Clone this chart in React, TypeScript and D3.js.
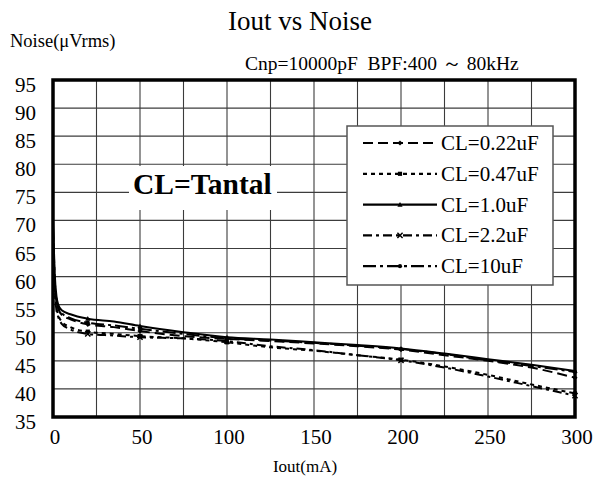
import React from "react";
import * as d3 from "d3";

const currents = [0, 0.5, 1, 2, 3, 5, 10, 20, 35, 50, 75, 100, 125, 150, 175, 200, 225, 250, 275, 300];
const cl022 = [68, 63, 59, 55.5, 54.3, 53.2, 52.4, 51.5, 51, 50.3, 49.4, 48.9, 48.5, 48.1, 47.6, 47.0, 46.0, 45.0, 43.8, 42.0];
const cl047 = [67, 62, 58, 54.5, 53.2, 52, 51, 50.2, 49.8, 49.4, 49.0, 48.3, 47.4, 46.8, 46.0, 45.2, 44.0, 42.5, 40.8, 39.2];
const cl1 = [70, 65, 60.5, 56.5, 55, 54, 53.3, 52.5, 52, 51.2, 50.1, 49.2, 48.8, 48.3, 47.8, 47.2, 46.3, 45.3, 44.3, 43.2];
const cl22 = [66, 61, 57.5, 54, 52.8, 51.6, 50.6, 49.8, 49.5, 49.2, 49, 48.5, 47.6, 46.9, 46.0, 45.1, 43.8, 42.2, 40.5, 38.8];
const cl10 = [69, 64, 59.5, 56, 54.5, 53.5, 52.6, 51.8, 51.3, 50.7, 49.8, 49.0, 48.6, 48.2, 47.7, 47.1, 46.2, 45.1, 44.1, 43.0];

const seriesNames = ["CL=0.22uF", "CL=0.47uF", "CL=1.0uF", "CL=2.2uF", "CL=10uF"];
const seriesValues = [cl022, cl047, cl1, cl22, cl10];
const markerCurrents = [20, 50, 100, 200, 300];

const xTicks = [0, 50, 100, 150, 200, 250, 300];
const yTicks = [35, 40, 45, 50, 55, 60, 65, 70, 75, 80, 85, 90, 95];
const xGrid = [25, 50, 75, 100, 125, 150, 175, 200, 225, 250, 275];

const dashes = ["10,5", "4,4", "none", "9,4,3,4", "13,4,3,4"];
const markers = ["diamond", "square", "triangle", "cross", "circle"];

const FONT = "Liberation Serif, DejaVu Serif, serif";

function Marker({ kind, x, y }: { kind: string; x: number; y: number }) {
  const s = 2.6;
  if (kind === "diamond") return <path d={`M${x},${y - s}L${x + s},${y}L${x},${y + s}L${x - s},${y}Z`} fill="#000" />;
  if (kind === "square") return <rect x={x - s * 0.8} y={y - s * 0.8} width={s * 1.6} height={s * 1.6} fill="#000" />;
  if (kind === "triangle") return <path d={`M${x},${y - s}L${x + s},${y + s * 0.8}L${x - s},${y + s * 0.8}Z`} fill="#000" />;
  if (kind === "cross")
    return <path d={`M${x - s},${y - s}L${x + s},${y + s}M${x + s},${y - s}L${x - s},${y + s}`} stroke="#000" strokeWidth={1.5} />;
  return <circle cx={x} cy={y} r={s * 0.8} fill="#000" />;
}

export default function App() {
  const x = d3.scaleLinear().domain([0, 300]).range([53, 575]);
  const y = d3.scaleLinear().domain([35, 95]).range([417, 80]);
  const line = d3
    .line<number>()
    .x((_, i) => x(currents[i]))
    .y((d) => y(d))
    .curve(d3.curveMonotoneX);

  const legX = 347, legY = 126, legW = 206, legH = 159;
  const legRow = (i: number) => 143 + i * 30.8;
  const ts = { fontFamily: FONT };

  return (
    <svg width={603} height={480} style={{ position: "absolute", left: 0, top: 0, background: "#fff", fontFamily: FONT }}>
      <rect x={0} y={0} width={603} height={480} fill="#fff" />
      <text style={ts} x={300} y={30} fontSize={27} textAnchor="middle">Iout vs Noise</text>
      <text style={ts} x={10} y={47} fontSize={18.5}>Noise(μVrms)</text>
      <text style={ts} x={245} y={70} fontSize={19.5}>{"Cnp=10000pF\u00a0\u00a0BPF:400 ～ 80kHz"}</text>

      {yTicks.slice(1, -1).map((t) => (
        <line key={"h" + t} x1={x(0)} x2={x(300)} y1={y(t)} y2={y(t)} stroke="#3c3c3c" strokeWidth={1.1} />
      ))}
      {xGrid.map((t) => (
        <line key={"v" + t} x1={x(t)} x2={x(t)} y1={y(35)} y2={y(95)} stroke="#3c3c3c" strokeWidth={1.1} />
      ))}

      <rect x={129} y={166} width={148} height={44} fill="#fff" />
      <text style={ts} x={133} y={194} fontSize={29.5} fontWeight="bold">CL=Tantal</text>

      {seriesValues.map((vals, si) => (
        <g key={si}>
          <path d={line(vals) || ""} fill="none" stroke="#000" strokeWidth={2} strokeDasharray={dashes[si]} />
          {markerCurrents.map((c) => {
            const idx = currents.indexOf(c);
            return <Marker key={c} kind={markers[si]} x={x(c)} y={y(vals[idx])} />;
          })}
        </g>
      ))}

      <rect x={legX} y={legY} width={legW} height={legH} fill="#fff" stroke="#555" strokeWidth={1.5} />
      {seriesNames.map((n, i) => (
        <g key={n}>
          <line x1={363} x2={437} y1={legRow(i)} y2={legRow(i)} stroke="#000" strokeWidth={2.2} strokeDasharray={dashes[i]} />
          <Marker kind={markers[i]} x={400} y={legRow(i)} />
          <text style={ts} x={441} y={legRow(i) + 7} fontSize={21}>{n}</text>
        </g>
      ))}

      <rect x={x(0)} y={y(95)} width={x(300) - x(0)} height={y(35) - y(95)} fill="none" stroke="#000" strokeWidth={3.5} />

      {yTicks.map((t) => (
        <text style={ts} key={"yl" + t} x={36} y={y(t) + 12} fontSize={21} textAnchor="end">{t}</text>
      ))}
      {xTicks.map((t) => (
        <text style={ts} key={"xl" + t} x={x(t) + 2} y={444} fontSize={21} textAnchor="middle">{t}</text>
      ))}
      <text style={ts} x={305} y={472} fontSize={17} textAnchor="middle">Iout(mA)</text>
    </svg>
  );
}
